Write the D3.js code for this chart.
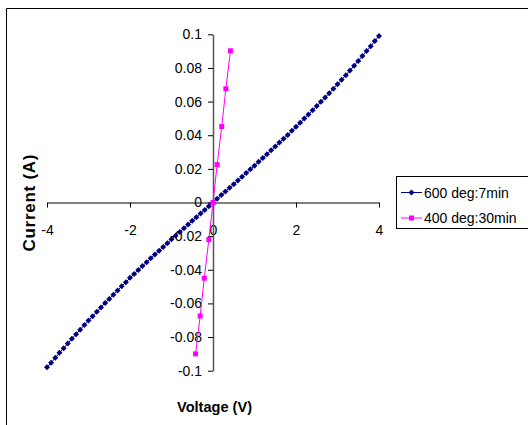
<!DOCTYPE html>
<html>
<head>
<meta charset="utf-8">
<script src="https://cdn.jsdelivr.net/npm/d3@7"></script>
<style>
  body { margin: 0; background: #fff; }
  svg { font-family: "Liberation Sans", Arial, sans-serif; }
</style>
</head>
<body>
<div id="chart"></div>
<script>
/* DATA */
const seriesNames = ["600 deg:7min", "400 deg:30min"];

// 600 deg:7min
const voltageA = [
  -4.0, -3.9, -3.8, -3.7, -3.6, -3.5, -3.4, -3.3, -3.2, -3.1,
  -3.0, -2.9, -2.8, -2.7, -2.6, -2.5, -2.4, -2.3, -2.2, -2.1,
  -2.0, -1.9, -1.8, -1.7, -1.6, -1.5, -1.4, -1.3, -1.2, -1.1,
  -1.0, -0.9, -0.8, -0.7, -0.6, -0.5, -0.4, -0.3, -0.2, -0.1,
  0.0, 0.1, 0.2, 0.3, 0.4, 0.5, 0.6, 0.7, 0.8, 0.9,
  1.0, 1.1, 1.2, 1.3, 1.4, 1.5, 1.6, 1.7, 1.8, 1.9,
  2.0, 2.1, 2.2, 2.3, 2.4, 2.5, 2.6, 2.7, 2.8, 2.9,
  3.0, 3.1, 3.2, 3.3, 3.4, 3.5, 3.6, 3.7, 3.8, 3.9, 4.0
];
const currentA = [
  -0.0980, -0.0952, -0.0923, -0.0894, -0.0866, -0.0838, -0.0810, -0.0783, -0.0756, -0.0729,
  -0.0702, -0.0676, -0.0650, -0.0624, -0.0598, -0.0573, -0.0548, -0.0523, -0.0498, -0.0474,
  -0.0448, -0.0425, -0.0401, -0.0378, -0.0355, -0.0332, -0.0309, -0.0287, -0.0264, -0.0242,
  -0.0219, -0.0197, -0.0175, -0.0153, -0.0131, -0.0109, -0.0087, -0.0065, -0.0044, -0.0022,
  0.0000, 0.0022, 0.0044, 0.0065, 0.0087, 0.0109, 0.0131, 0.0153, 0.0175, 0.0197,
  0.0219, 0.0242, 0.0264, 0.0287, 0.0310, 0.0333, 0.0356, 0.0379, 0.0402, 0.0426,
  0.0450, 0.0474, 0.0499, 0.0523, 0.0548, 0.0573, 0.0599, 0.0624, 0.0650, 0.0677,
  0.0703, 0.0730, 0.0757, 0.0785, 0.0813, 0.0842, 0.0871, 0.0900, 0.0929, 0.0960, 0.0990
];

// 400 deg:30min
const voltageB = [-0.42, -0.31, -0.21, -0.10, 0.00, 0.10, 0.21, 0.31, 0.42];
const currentB = [-0.0900, -0.0675, -0.0450, -0.0220, 0.0000, 0.0225, 0.0452, 0.0676, 0.0902];

const xTicks = [-4, -2, 0, 2, 4];
const yTicks = [-0.1, -0.08, -0.06, -0.04, -0.02, 0, 0.02, 0.04, 0.06, 0.08, 0.1];
const yTickLabels = ["-0.1", "-0.08", "-0.06", "-0.04", "-0.02", "0", "0.02", "0.04", "0.06", "0.08", "0.1"];

/* LAYOUT */
const width = 528, height = 425;
const plot = { left: 47, right: 379, top: 34.3, bottom: 370.7 };
const colors = ["#000080", "#FF00FF"];

const svg = d3.select("#chart").append("svg")
  .attr("width", width)
  .attr("height", height);

// outer chart frame
svg.append("path")
  .attr("d", `M6.5,${height + 5}V8.5H${width + 5}`)
  .attr("fill", "none")
  .attr("stroke", "#000")
  .attr("stroke-width", 1);

const xScale = d3.scaleLinear().domain([-4, 4]).range([plot.left, plot.right]);
const yScale = d3.scaleLinear().domain([-0.1, 0.1]).range([plot.bottom, plot.top]);

// x axis through y = 0
const xAxis = svg.append("g")
  .attr("transform", `translate(0,${yScale(0)})`)
  .call(d3.axisBottom(xScale).tickValues(xTicks).tickSize(5).tickSizeOuter(0).tickPadding(18)
    .tickFormat(d => String(d)));

// y axis through x = 0
const yAxis = svg.append("g")
  .attr("transform", `translate(${xScale(0)},0)`)
  .call(d3.axisLeft(yScale).tickValues(yTicks).tickSize(5).tickSizeOuter(0).tickPadding(6)
    .tickFormat((d, i) => yTickLabels[i]));

svg.selectAll(".tick text")
  .attr("font-size", 14)
  .attr("font-family", "Liberation Sans, Arial, sans-serif")
  .attr("fill", "#000");
svg.selectAll(".domain, .tick line").attr("stroke", "#000");
yAxis.select(".domain").attr("stroke", "#555").attr("stroke-width", 1.5);

// axis titles
svg.append("text")
  .attr("x", 214.5)
  .attr("y", 412)
  .attr("text-anchor", "middle")
  .attr("font-size", 15)
  .attr("font-weight", "bold")
  .attr("textLength", 75)
  .attr("lengthAdjust", "spacingAndGlyphs")
  .text("Voltage (V)");

svg.append("text")
  .attr("transform", "translate(35,203) rotate(-90)")
  .attr("text-anchor", "middle")
  .attr("font-size", 17)
  .attr("font-weight", "bold")
  .attr("textLength", 97)
  .attr("lengthAdjust", "spacing")
  .text("Current (A)");

/* SERIES */
const seriesA = voltageA.map((v, i) => ({ v, c: currentA[i] }));
const seriesB = voltageB.map((v, i) => ({ v, c: currentB[i] }));

const line = d3.line().x(d => xScale(d.v)).y(d => yScale(d.c));

svg.append("path")
  .datum(seriesA)
  .attr("d", line)
  .attr("fill", "none")
  .attr("stroke", colors[0])
  .attr("stroke-width", 1);

svg.append("path")
  .datum(seriesB)
  .attr("d", line)
  .attr("fill", "none")
  .attr("stroke", colors[1])
  .attr("stroke-width", 1);

const diamond = "M0,-3L3,0L0,3L-3,0Z";

svg.selectAll(".markA")
  .data(seriesA)
  .join("path")
  .attr("class", "markA")
  .attr("d", diamond)
  .attr("transform", d => `translate(${xScale(d.v)},${yScale(d.c)})`)
  .attr("fill", colors[0]);

svg.selectAll(".markB")
  .data(seriesB)
  .join("rect")
  .attr("class", "markB")
  .attr("x", d => xScale(d.v) - 2.5)
  .attr("y", d => yScale(d.c) - 2.5)
  .attr("width", 5)
  .attr("height", 5)
  .attr("fill", colors[1]);

/* LEGEND */
const legend = svg.append("g");
legend.append("rect")
  .attr("x", 396.5)
  .attr("y", 176.5)
  .attr("width", 140)
  .attr("height", 52)
  .attr("fill", "#fff")
  .attr("stroke", "#000");

seriesNames.forEach((name, i) => {
  const cy = 192.5 + i * 25.5;
  legend.append("line")
    .attr("x1", 401).attr("x2", 422)
    .attr("y1", cy).attr("y2", cy)
    .attr("stroke", colors[i]);
  if (i === 0) {
    legend.append("path")
      .attr("d", diamond)
      .attr("transform", `translate(411.5,${cy})`)
      .attr("fill", colors[i]);
  } else {
    legend.append("rect")
      .attr("x", 409).attr("y", cy - 2.5)
      .attr("width", 5).attr("height", 5)
      .attr("fill", colors[i]);
  }
  legend.append("text")
    .attr("x", 424)
    .attr("y", cy + 5)
    .attr("font-size", 14)
    .text(name);
});
</script>
</body>
</html>
